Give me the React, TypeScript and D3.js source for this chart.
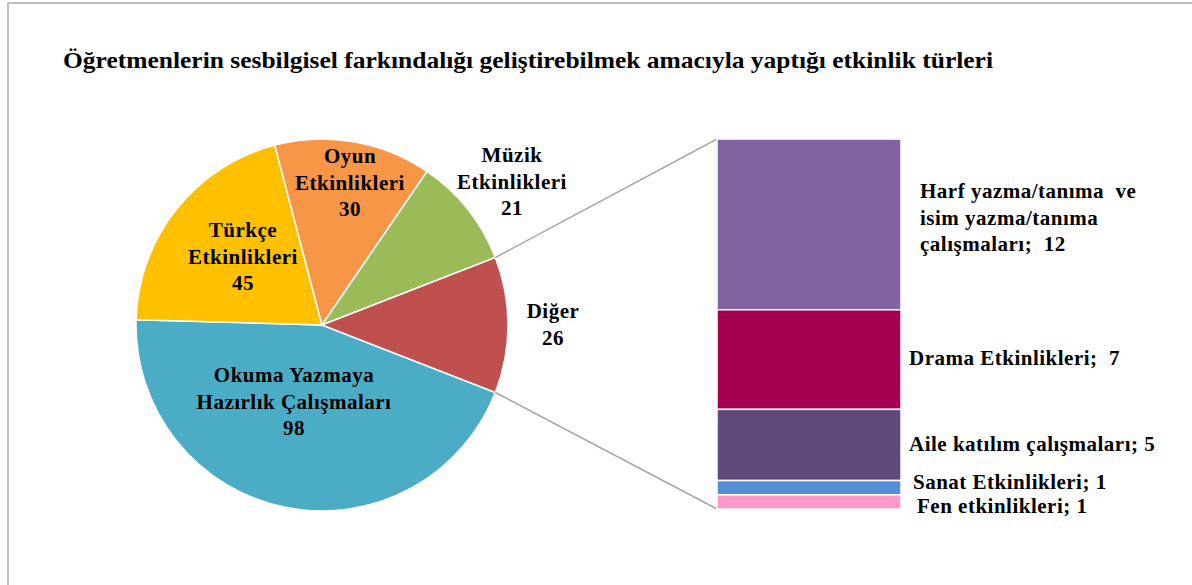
import React from "react";
import * as d3 from "d3";

// pie (main) data, in Excel order
const pieNames = ["Okuma Yazmaya Hazırlık Çalışmaları", "Türkçe Etkinlikleri", "Oyun Etkinlikleri", "Müzik Etkinlikleri", "Diğer"];
const pieValues = [98, 45, 30, 21, 26];
const pieColors = ["#4BACC6", "#FFC000", "#F79646", "#9BBB59", "#C0504D"];

// bar (Diğer split) data, top to bottom
const barNames = ["Harf yazma/tanıma ve isim yazma/tanıma çalışmaları", "Drama Etkinlikleri", "Aile katılım çalışmaları", "Sanat Etkinlikleri", "Fen etkinlikleri"];
const barValues = [12, 7, 5, 1, 1];
const barColors = ["#8064A2", "#A5004F", "#604A7B", "#558ED5", "#FF99CC"];

const title = "Öğretmenlerin sesbilgisel farkındalığı geliştirebilmek amacıyla yaptığı etkinlik türleri";

const W = 1192;
const H = 585;
const font = "'Liberation Serif', 'Times New Roman', serif";

// label layout (lines + anchor), kept apart from data
const pieLabelLayout = [
  { lines: ["Okuma  Yazmaya", "Hazırlık Çalışmaları"], x: 294, y: 382 },
  { lines: ["Türkçe", "Etkinlikleri"], x: 243, y: 237 },
  { lines: ["Oyun", "Etkinlikleri"], x: 350, y: 163 },
  { lines: ["Müzik", "Etkinlikleri"], x: 512, y: 162 },
  { lines: ["Diğer"], x: 553, y: 318 },
];
const barLabelLayout = [
  { lines: ["Harf yazma/tanıma  ve", "isim yazma/tanıma", "çalışmaları;  "], x: 920, y: 198 },
  { lines: ["Drama Etkinlikleri;  "], x: 909, y: 365 },
  { lines: ["Aile katılım çalışmaları; "], x: 909, y: 451 },
  { lines: ["Sanat Etkinlikleri; "], x: 913, y: 489 },
  { lines: ["Fen etkinlikleri; "], x: 917, y: 513 },
];

export default function App() {
  const cx = 322;
  const cy = 325;
  const r = 186;
  const total = d3.sum(pieValues);
  const splitIdx = pieValues.length - 1;
  // Diğer slice centred at 3 o'clock; Okuma starts right after it
  const splitHalf = (pieValues[splitIdx] / total) * Math.PI;
  const start = Math.PI / 2 + splitHalf;
  const pie = d3.pie<number>().sort(null).startAngle(start).endAngle(start + 2 * Math.PI);
  const arcs = pie(pieValues);
  const arc = d3.arc<d3.PieArcDatum<number>>().innerRadius(0).outerRadius(r);

  const barX0 = 717;
  const barX1 = 901;
  const y = d3.scaleLinear().domain([0, d3.sum(barValues)]).range([139, 509]);
  const cum = barValues.map((_, i) => d3.sum(barValues.slice(0, i)));

  const splitArc = arcs[splitIdx];
  const pt = (a: number) => [cx + r * Math.sin(a), cy - r * Math.cos(a)];
  const [ax0, ay0] = pt(splitArc.startAngle);
  const [ax1, ay1] = pt(splitArc.endAngle);

  const lh = 26.5;

  return (
    <svg width={W} height={H} style={{ position: "absolute", left: 0, top: 0, background: "#fff" }} fontFamily={font}>
      <rect x={8} y={3} width={W + 20} height={H + 20} fill="#fff" stroke="#BFBFBF" strokeWidth={2} />
      <text x={63} y={68} fontSize={24} fontWeight="bold" textLength={930} lengthAdjust="spacingAndGlyphs">
        {title}
      </text>

      <g transform={`translate(${cx},${cy})`}>
        {arcs.map((a, i) => (
          <path key={i} d={arc(a) || ""} fill={pieColors[i]} stroke="#fff" strokeWidth={1.5} />
        ))}
      </g>

      <line x1={ax0} y1={ay0} x2={barX0} y2={y(0)} stroke="#A6A6A6" strokeWidth={1.5} />
      <line x1={ax1} y1={ay1} x2={barX0} y2={y(d3.sum(barValues))} stroke="#A6A6A6" strokeWidth={1.5} />

      {barValues.map((v, i) => (
        <rect
          key={i}
          x={barX0}
          y={y(cum[i])}
          width={barX1 - barX0}
          height={y(cum[i] + v) - y(cum[i])}
          fill={barColors[i]}
          stroke="#fff"
          strokeWidth={1.5}
        />
      ))}

      {pieLabelLayout.map((l, i) => (
        <text key={i} x={l.x} y={l.y} textAnchor="middle" fontSize={21} fontWeight="bold" letterSpacing={0.5} fill="#000">
          {l.lines.map((s, j) => (
            <tspan key={j} x={l.x} y={l.y + j * lh}>{s}</tspan>
          ))}
          <tspan x={l.x} y={l.y + l.lines.length * lh}>{pieValues[i]}</tspan>
        </text>
      ))}

      {barLabelLayout.map((l, i) => (
        <text key={i} x={l.x} y={l.y} fontSize={21} fontWeight="bold" letterSpacing={0.5} fill="#000" style={{ whiteSpace: "pre" }}>
          {l.lines.map((s, j) => (
            <tspan key={j} x={l.x} y={l.y + j * lh}>
              {j === l.lines.length - 1 ? s + barValues[i] : s}
            </tspan>
          ))}
        </text>
      ))}
    </svg>
  );
}
